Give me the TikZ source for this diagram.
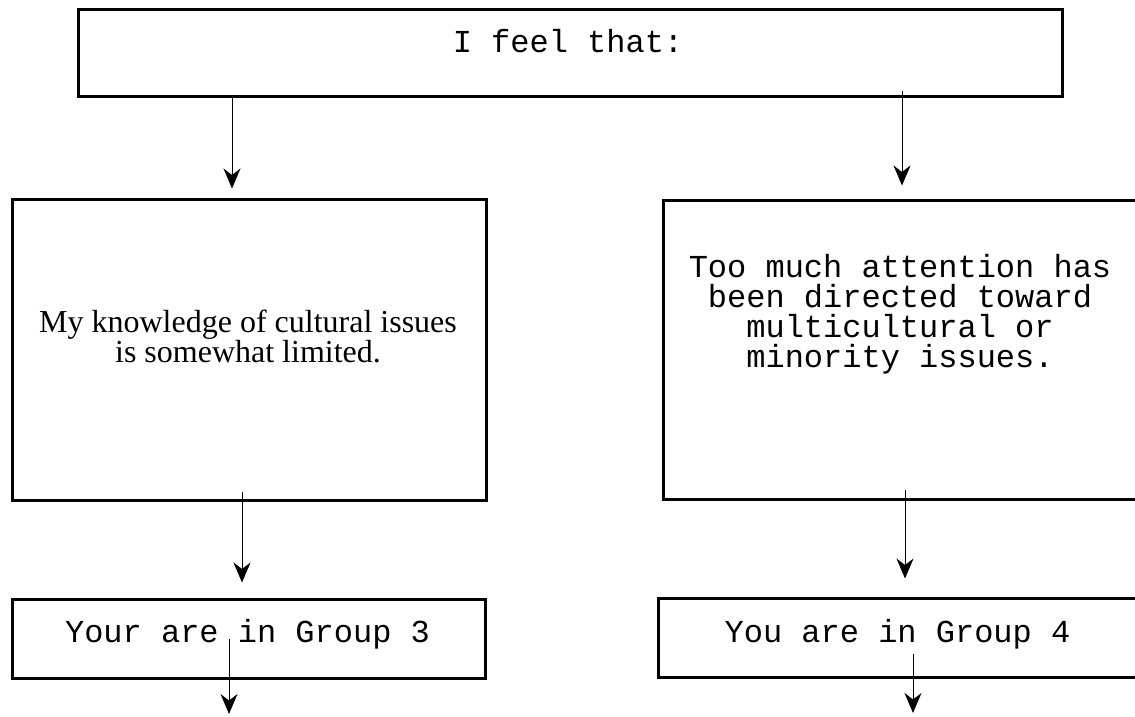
\documentclass[tikz,border=0pt]{standalone}
\usepackage{fontspec}
\setmainfont{Liberation Serif}
\newfontfamily\couriertxt{Liberation Mono}
\usetikzlibrary{arrows.meta}
\tikzset{
  box/.style={draw, line width=1.5pt, inner sep=0pt, minimum width=#1},
  mono/.style={font=\couriertxt\fontsize{16pt}{15pt}\selectfont, inner sep=0pt, anchor=base, align=center},
  serif/.style={font=\fontsize{16pt}{15pt}\selectfont, inner sep=0pt, anchor=base, align=center},
  arr/.style={line width=0.5pt, -{Stealth[length=10pt,width=8.5pt]}}
}
\begin{document}
\begin{tikzpicture}[x=0.5pt,y=-0.5pt]
\clip (0,0) rectangle (1135,717);
\fill[white] (0,0) rectangle (1135,717);
% boxes
\node[box=492pt, minimum height=43.5pt] (top) at (570,53.5) {};
\node[box=237pt, minimum height=150.5pt] (L1) at (249,349.5) {};
\node[box=237pt, minimum height=149.5pt] (R1) at (900,349.5) {};
\node[box=236.5pt, minimum height=39.5pt] (G3) at (248.5,638.5) {};
\node[box=240pt, minimum height=39.5pt] (G4) at (898,637.5) {};
% texts
\node[mono] (tT) at (568,53) {I feel that:};
\node[serif] (tL) at (248,362) {My knowledge of cultural issues\\is somewhat limited.};
\node[mono] (tR) at (900,367) {Too much attention has\\been directed toward\\multicultural or\\minority issues.};
\node[mono] (t3) at (247.5,642) {Your are in Group 3};
\node[mono] (t4) at (897.5,642) {You are in Group 4};
% arrow x positions and free ends
\coordinate (xa) at (232,0);
\coordinate (xb) at (902,0);
\coordinate (xc) at (242,0);
\coordinate (xd) at (905,0);
\coordinate (e3) at (229,714);
\coordinate (e4) at (913,713);
% connectors
\draw[arr, shorten >=4.5pt] (top.south -| xa) -- (L1.north -| xa);
\draw[arr, shorten <=-3.5pt, shorten >=6.5pt] (top.south -| xb) -- (R1.north -| xb);
\draw[arr, shorten <=-5pt, shorten >=7.5pt] (L1.south -| xc) -- (G3.north -| xc);
\draw[arr, shorten <=-5.5pt, shorten >=9pt] (R1.south -| xd) -- (G4.north -| xd);
\draw[arr, shorten <=-20.5pt] (G3.south -| e3) -- (e3);
\draw[arr, shorten <=-12.5pt] (G4.south -| e4) -- (e4);
\end{tikzpicture}
\end{document}
